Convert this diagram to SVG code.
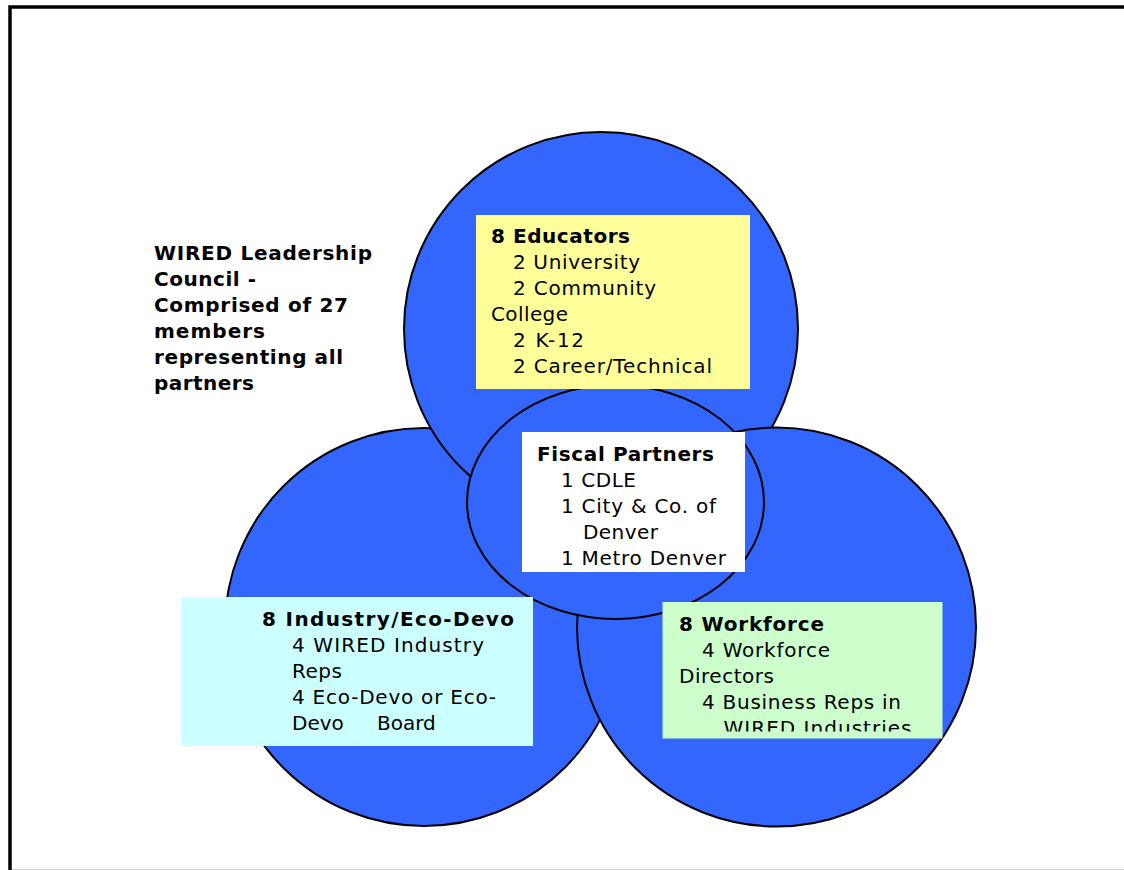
<svg xmlns="http://www.w3.org/2000/svg" width="1124" height="870" viewBox="0 0 1124 870">
<defs>
<style>
.c{fill:#3366FF;stroke:#000;stroke-width:2}
.t{font-family:"DejaVu Sans","Verdana","Liberation Sans",sans-serif;font-size:20px;fill:#000}
.b{font-weight:bold}
</style>
<clipPath id="wfclip"><rect x="662" y="602" width="281" height="129.5"/></clipPath>
</defs>
<rect x="0" y="0" width="1124" height="870" fill="#fff"/>
<g id="frame">
<rect x="10" y="7" width="1300" height="900" fill="none" stroke="#000" stroke-width="3.5"/>
<line x1="12" y1="869.5" x2="1124" y2="869.5" stroke="#cccccc" stroke-width="1"/>
</g>
<g id="title">
<text class="t b" x="154" y="260" textLength="218" lengthAdjust="spacing">WIRED Leadership</text>
<text class="t b" x="154" y="286" textLength="102" lengthAdjust="spacing">Council -</text>
<text class="t b" x="154" y="312" textLength="194" lengthAdjust="spacing">Comprised of 27</text>
<text class="t b" x="154" y="338" textLength="111" lengthAdjust="spacing">members</text>
<text class="t b" x="154" y="364" textLength="189" lengthAdjust="spacing">representing all</text>
<text class="t b" x="154" y="390" textLength="100" lengthAdjust="spacing">partners</text>
</g>
<g id="circle-industry"><circle class="c" cx="424" cy="627" r="199"/></g>
<g id="circle-educators"><circle class="c" cx="601" cy="329" r="197"/></g>
<g id="circle-workforce"><circle class="c" cx="776.5" cy="627" r="199.5"/></g>
<g id="circle-fiscal"><ellipse class="c" cx="615.5" cy="502" rx="148.5" ry="117"/></g>
<g id="educators">
<rect x="476" y="215" width="274" height="174" fill="#FFFF99"/>
<text class="t b" x="491" y="243" textLength="139" lengthAdjust="spacing">8 Educators</text>
<text class="t" x="513" y="269" textLength="127" lengthAdjust="spacing">2 University</text>
<text class="t" x="513" y="295" textLength="143" lengthAdjust="spacing">2 Community</text>
<text class="t" x="491" y="321" textLength="77" lengthAdjust="spacing">College</text>
<text class="t" x="513" y="347" textLength="71" lengthAdjust="spacing">2 K-12</text>
<text class="t" x="513" y="373" textLength="199" lengthAdjust="spacing">2 Career/Technical</text>
</g>
<g id="fiscal">
<rect x="522" y="432" width="223" height="140" fill="#FFFFFF"/>
<text class="t b" x="537" y="461" textLength="177" lengthAdjust="spacing">Fiscal Partners</text>
<text class="t" x="561" y="487" textLength="75" lengthAdjust="spacing">1 CDLE</text>
<text class="t" x="561" y="513" textLength="155" lengthAdjust="spacing">1 City &amp; Co. of</text>
<text class="t" x="583" y="539" textLength="75" lengthAdjust="spacing">Denver</text>
<text class="t" x="561" y="565" textLength="165" lengthAdjust="spacing">1 Metro Denver</text>
</g>
<g id="industry">
<rect x="181" y="597" width="352" height="149" fill="#CCFFFF"/>
<text class="t b" x="262" y="626" textLength="252" lengthAdjust="spacing">8 Industry/Eco-Devo</text>
<text class="t" x="292" y="652" textLength="192" lengthAdjust="spacing">4 WIRED Industry</text>
<text class="t" x="292" y="678" textLength="50" lengthAdjust="spacing">Reps</text>
<text class="t" x="292" y="703.5" textLength="204" lengthAdjust="spacing">4 Eco-Devo or Eco-</text>
<text class="t" y="729.5"><tspan x="292">Devo</tspan><tspan x="377">Board</tspan></text>
</g>
<g id="workforce">
<rect x="662.5" y="602" width="280" height="136.5" fill="#CCFFCC"/>
<text class="t b" x="679" y="631" textLength="145" lengthAdjust="spacing">8 Workforce</text>
<text class="t" x="702" y="657" textLength="128" lengthAdjust="spacing">4 Workforce</text>
<text class="t" x="679" y="683" textLength="95" lengthAdjust="spacing">Directors</text>
<text class="t" x="702" y="708.5" textLength="199" lengthAdjust="spacing">4 Business Reps in</text>
<text class="t" x="723.5" y="734.5" textLength="188" lengthAdjust="spacing" clip-path="url(#wfclip)">WIRED Industries</text>
</g>
</svg>
